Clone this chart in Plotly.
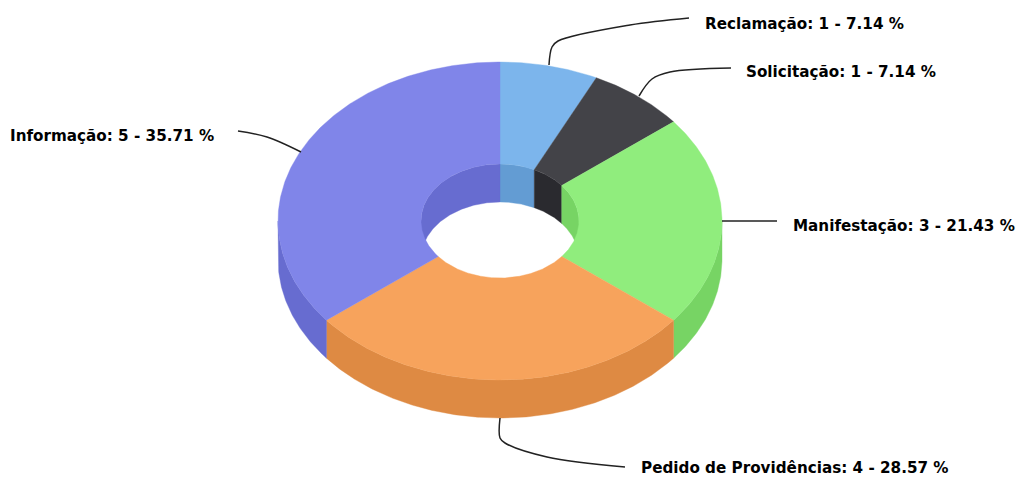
import numpy as np
import plotly.graph_objects as go

categories = ["Reclamação", "Solicitação", "Manifestação", "Pedido de Providências", "Informação"]
values = [1, 1, 3, 4, 5]

colors = ["#7cb5ec", "#434348", "#90ed7d", "#f7a35c", "#8085e9"]
side_colors = ["#639cd3", "#2a2a2f", "#77d464", "#de8a43", "#676cd0"]

# Projection of the donut on the page, in pixels
CX, CY = 500.0, 221.0
RX, RY = 222.0, 159.0
IRX, IRY = 79.0, 57.0
DEPTH = 38.0


def arc(a0, a1, rx, ry, dy=0.0):
    t = np.radians(np.linspace(a0, a1, max(int(abs(a1 - a0) * 2), 2) + 1))
    return CX + rx * np.sin(t), CY - ry * np.cos(t) + dy


def poly(fig, xa, ya, xb, yb, color):
    x = np.r_[xa, xb[::-1], xa[0]]
    y = np.r_[ya, yb[::-1], ya[0]]
    fig.add_trace(go.Scatter(x=x, y=y, mode="lines", fill="toself", fillcolor=color,
                             line=dict(color=color, width=0.4), hoverinfo="skip",
                             showlegend=False))


fig = go.Figure()
total = sum(values)
edges = np.r_[0, np.cumsum(values)] / total * 360.0

# outer side walls (front half) and inner walls (back half)
for i in range(len(values)):
    a0, a1 = edges[i], edges[i + 1]
    lo, hi = max(a0, 90.0), min(a1, 270.0)
    if hi > lo:
        xa, ya = arc(lo, hi, RX, RY)
        xb, yb = arc(lo, hi, RX, RY, DEPTH)
        poly(fig, xa, ya, xb, yb, side_colors[i])
    for lo, hi in ((max(a0, 0.0), min(a1, 90.0)), (max(a0, 270.0), min(a1, 360.0))):
        if hi > lo:
            xa, ya = arc(lo, hi, IRX, IRY)
            xb, yb = arc(lo, hi, IRX, IRY, DEPTH)
            poly(fig, xa, ya, xb, yb, side_colors[i])

# top faces
for i in range(len(values)):
    a0, a1 = edges[i], edges[i + 1]
    xa, ya = arc(a0, a1, RX, RY)
    xb, yb = arc(a0, a1, IRX, IRY)
    poly(fig, xa, ya, xb, yb, colors[i])

# connectors and labels (page pixels)
connectors = {
    "Reclamação": ([549, 552, 558, 630, 689], [65, 47, 41, 25, 18]),
    "Solicitação": ([639, 652, 670, 731], [96, 79, 72, 68]),
    "Manifestação": ([722, 777], [221, 221]),
    "Pedido de Providências": ([500, 500, 505, 547, 625], [418, 438, 443, 457, 467]),
    "Informação": ([238, 267, 301], [131, 137, 152]),
}
label_pos = {
    "Reclamação": (704, 24),
    "Solicitação": (745, 72),
    "Manifestação": (792, 226),
    "Pedido de Providências": (640, 468),
    "Informação": (9, 136),
}

for c, v in zip(categories, values):
    lx, ly = connectors[c]
    fig.add_trace(go.Scatter(x=lx, y=ly, mode="lines", hoverinfo="skip", showlegend=False,
                             line=dict(color="#222222", width=1.5, shape="spline", smoothing=1)))
    px, py = label_pos[c]
    fig.add_annotation(x=px, y=py, xref="x", yref="y", xanchor="left", yanchor="middle",
                       showarrow=False, borderpad=0,
                       text=f"<b>{c}: {v} - {v / total * 100:.2f} %</b>",
                       font=dict(family="DejaVu Sans", size=15.2, color="#000000"))

fig.update_layout(width=1019, height=477, margin=dict(l=0, r=0, t=0, b=0),
                  paper_bgcolor="white", plot_bgcolor="white",
                  xaxis=dict(range=[0, 1019], visible=False, fixedrange=True),
                  yaxis=dict(range=[477, 0], visible=False, fixedrange=True))
fig.write_html("out.html", config={"displayModeBar": False},
               post_script="document.body.style.margin='0';document.body.style.overflow='hidden';")
